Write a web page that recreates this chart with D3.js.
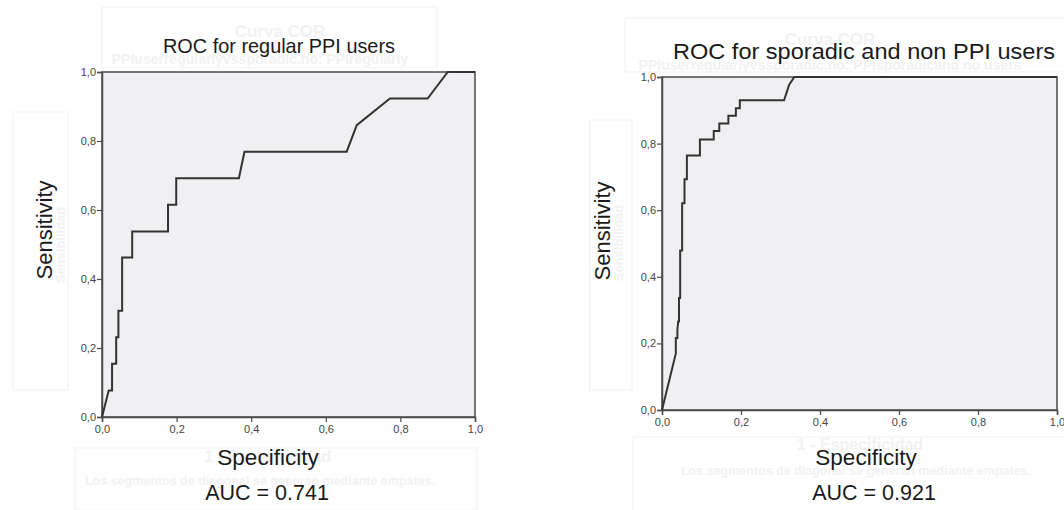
<!DOCTYPE html>
<html>
<head>
	<meta charset="utf-8">
	<title>roc</title>
	<style type="text/css">
		body { margin: 0; background: #fff; }
		text { font-family: "Liberation Sans", Arial, sans-serif; }
	</style>
</head>
<body>
<script type="text/javascript" src="https://cdn.jsdelivr.net/npm/d3@7/dist/d3.min.js"></script>
<script type="text/javascript">
	// data
	var tickValues = [0, 0.2, 0.4, 0.6, 0.8, 1.0];

	var regularX = [0, 0.018, 0.027, 0.027, 0.038, 0.038, 0.044, 0.044, 0.054, 0.054, 0.081, 0.081, 0.177, 0.177, 0.199, 0.199, 0.367, 0.382, 0.656, 0.683, 0.772, 0.873, 0.927, 1.0];
	var regularY = [0, 0.077, 0.077, 0.154, 0.154, 0.231, 0.231, 0.308, 0.308, 0.462, 0.462, 0.538, 0.538, 0.615, 0.615, 0.692, 0.692, 0.769, 0.769, 0.846, 0.923, 0.923, 1.0, 1.0];

	var sporadicX = [0, 0.035, 0.035, 0.039, 0.039, 0.041, 0.043, 0.043, 0.046, 0.046, 0.051, 0.051, 0.057, 0.057, 0.063, 0.063, 0.096, 0.096, 0.131, 0.131, 0.145, 0.145, 0.168, 0.168, 0.187, 0.187, 0.197, 0.197, 0.309, 0.322, 0.335, 1.0];
	var sporadicY = [0, 0.170, 0.216, 0.216, 0.241, 0.266, 0.266, 0.336, 0.336, 0.479, 0.479, 0.621, 0.621, 0.693, 0.693, 0.764, 0.764, 0.812, 0.812, 0.838, 0.838, 0.860, 0.860, 0.884, 0.884, 0.906, 0.906, 0.930, 0.930, 0.977, 1.0, 1.0];

	var charts = [
		{
			title: "ROC for regular PPI users", titleX: 279, titleY: 53, titleLen: 232, titleSize: 21,
			xs: regularX, ys: regularY, auc: "AUC = 0.741",
			left: 102, right: 475, top: 72, bottom: 417,
			ylabX: 52, ylabY: 230, specX: 268, specY: 465, aucX: 267, aucY: 500,
			ghost: {
				topBox: [102, 7, 335, 61], cor: [280, 37], sub: "PPIuserregularlyvssporadic.no: PPIregularly", subX: 260, subY: 64,
				sideBox: [13, 112, 55, 278], sens: [65, 245],
				botBox: [75, 448, 402, 62], esp: [268, 462], seg: [260, 485]
			}
		},
		{
			title: "ROC for sporadic and non PPI users", titleX: 864, titleY: 59, titleLen: 382, titleSize: 22.5,
			xs: sporadicX, ys: sporadicY, auc: "AUC = 0.921",
			left: 662, right: 1057, top: 77, bottom: 410,
			ylabX: 610, ylabY: 231, specX: 866, specY: 465, aucX: 874, aucY: 500,
			ghost: {
				topBox: [625, 18, 445, 54], cor: [830, 45], sub: "PPIuserregularlyvssporadic.no: PPIsporadicand no users", subX: 830, subY: 70,
				sideBox: [590, 120, 42, 270], sens: [623, 243],
				botBox: [633, 437, 440, 80], esp: [860, 450], seg: [856, 475]
			}
		}
	];

	var w = 1064;
	var h = 510;
	var fmt = function(d) { return d3.format(".1f")(d).replace(".", ","); };

	var svg = d3.select("body").append("svg").attr("width", w).attr("height", h);

	charts.forEach(function(c) {
		var g = svg.append("g");
		var gh = c.ghost;
		var ghostFill = "#f2f2f2";
		var ghostLine = "#f6f6f6";

		// faint leftovers of the original SPSS output
		[gh.topBox, gh.sideBox, gh.botBox].forEach(function(b) {
			g.append("rect").attr("x", b[0]).attr("y", b[1]).attr("width", b[2]).attr("height", b[3])
				.attr("fill", "none").attr("stroke", ghostLine).attr("stroke-width", 1.5);
		});
		g.append("text").attr("x", gh.cor[0]).attr("y", gh.cor[1]).attr("text-anchor", "middle")
			.attr("font-size", 17).attr("font-weight", "bold").attr("fill", ghostFill).text("Curva COR");
		g.append("text").attr("x", gh.subX).attr("y", gh.subY).attr("text-anchor", "middle")
			.attr("font-size", 14).attr("font-weight", "bold").attr("fill", ghostFill).text(gh.sub);
		g.append("text").attr("transform", "translate(" + gh.sens[0] + "," + gh.sens[1] + ") rotate(-90)")
			.attr("text-anchor", "middle").attr("font-size", 13).attr("font-weight", "bold")
			.attr("fill", ghostFill).text("Sensibilidad");
		g.append("text").attr("x", gh.esp[0]).attr("y", gh.esp[1]).attr("text-anchor", "middle")
			.attr("font-size", 16).attr("font-weight", "bold").attr("fill", ghostFill).text("1 - Especificidad");
		g.append("text").attr("x", gh.seg[0]).attr("y", gh.seg[1]).attr("text-anchor", "middle")
			.attr("font-size", 12.5).attr("font-weight", "bold").attr("fill", ghostFill)
			.text("Los segmentos de diagonal se generan mediante empates.");

		// scales
		var x = d3.scaleLinear().domain([0, 1]).range([c.left, c.right]);
		var y = d3.scaleLinear().domain([0, 1]).range([c.bottom, c.top]);

		g.append("rect").attr("x", c.left).attr("y", c.top)
			.attr("width", c.right - c.left).attr("height", c.bottom - c.top)
			.attr("fill", "#f0f0f2").attr("stroke", "#4a4a4a").attr("stroke-width", 1.5);

		// axes
		var xAxis = d3.axisBottom(x).tickValues(tickValues).tickFormat(fmt).tickSize(5).tickPadding(3);
		var yAxis = d3.axisLeft(y).tickValues(tickValues).tickFormat(fmt).tickSize(5).tickPadding(1);
		var gx = g.append("g").attr("transform", "translate(0," + c.bottom + ")").call(xAxis);
		var gy = g.append("g").attr("transform", "translate(" + c.left + ",0)").call(yAxis);
		[gx, gy].forEach(function(a) {
			a.select(".domain").attr("stroke", "#4a4a4a").attr("stroke-width", 1.5);
			a.selectAll(".tick line").attr("stroke", "#4a4a4a").attr("stroke-width", 1.2);
			a.selectAll(".tick text").attr("font-family", "'Liberation Sans', Arial, sans-serif")
				.attr("font-size", 11).attr("fill", "#444");
		});

		// curve
		var pts = c.xs.map(function(v, i) { return [v, c.ys[i]]; });
		var line = d3.line().x(function(d) { return x(d[0]); }).y(function(d) { return y(d[1]); });
		g.append("path").datum(pts).attr("d", line)
			.attr("fill", "none").attr("stroke", "#333").attr("stroke-width", 2);

		// labels
		g.append("text").attr("x", c.titleX).attr("y", c.titleY).attr("text-anchor", "middle")
			.attr("font-size", c.titleSize).attr("fill", "#1a1a1a")
			.attr("textLength", c.titleLen).attr("lengthAdjust", "spacingAndGlyphs").text(c.title);
		g.append("text").attr("transform", "translate(" + c.ylabX + "," + c.ylabY + ") rotate(-90)")
			.attr("text-anchor", "middle").attr("font-size", 22).attr("fill", "#1a1a1a").text("Sensitivity");
		g.append("text").attr("x", c.specX).attr("y", c.specY).attr("text-anchor", "middle")
			.attr("font-size", 22.5).attr("fill", "#1a1a1a").text("Specificity");
		g.append("text").attr("x", c.aucX).attr("y", c.aucY).attr("text-anchor", "middle")
			.attr("font-size", 21.5).attr("fill", "#1a1a1a").text(c.auc);
	});
</script>
</body>
</html>
